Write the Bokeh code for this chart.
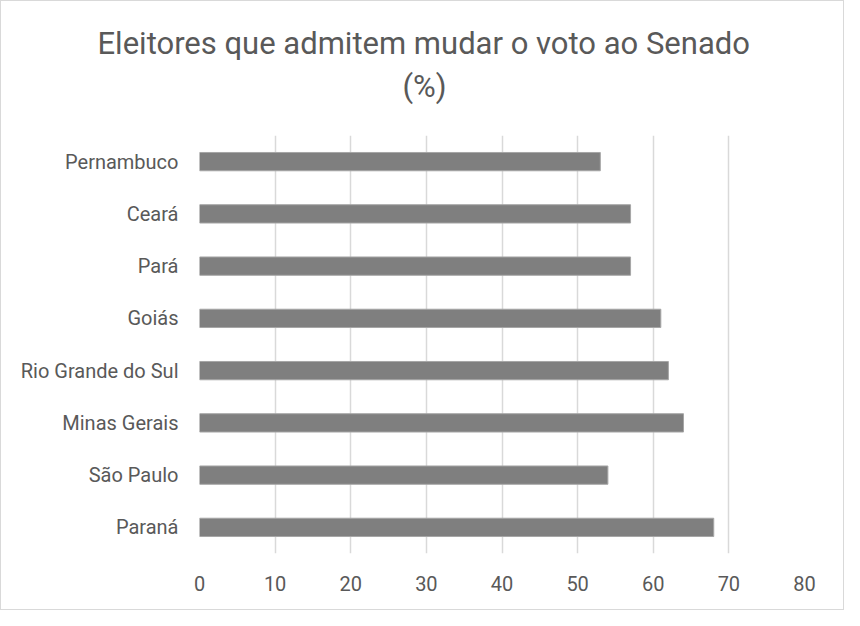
from bokeh.plotting import figure
from bokeh.models import Range1d, FactorRange, FixedTicker, Title, ColumnDataSource
from bokeh.embed import file_html
from bokeh.resources import INLINE

states = ["Pernambuco", "Ceará", "Pará", "Goiás", "Rio Grande do Sul",
          "Minas Gerais", "São Paulo", "Paraná"]
values = [53, 57, 57, 61, 62, 64, 54, 68]
x_ticks = [0, 10, 20, 30, 40, 50, 60, 70, 80]
title_line1 = "Eleitores que admitem mudar o voto ao Senado"
title_line2 = "(%)"

FONT = "Roboto"
TXT = "#595959"

source = ColumnDataSource(dict(state=states, value=values))

p = figure(width=844, height=610, output_backend="svg", toolbar_location=None,
           y_range=FactorRange(factors=list(reversed(states))),
           x_range=Range1d(0, 80),
           min_border_left=198, min_border_right=41,
           min_border_top=134, min_border_bottom=58)

p.hbar(y="state", right="value", left=0, height=0.35, source=source,
       fill_color="#7F7F7F", line_color="#A6A6A6", line_width=1)

# titles (last added is outermost)
t2 = Title(text=title_line2, align="left", text_font=FONT, text_font_size="31px",
           text_font_style="normal", text_color=TXT, standoff=61, offset=203)
t1 = Title(text=title_line1, align="left", text_font=FONT, text_font_size="31px",
           text_font_style="normal", text_color=TXT, standoff=-53, offset=-102)
p.add_layout(t2, "above")
p.add_layout(t1, "above")

p.outline_line_color = None
p.background_fill_color = "white"
p.border_fill_color = "white"

p.xaxis.ticker = FixedTicker(ticks=x_ticks)
p.xaxis.axis_line_color = None
p.xaxis.major_tick_line_color = None
p.xaxis.minor_tick_line_color = None
p.xaxis.major_label_text_font = FONT
p.xaxis.major_label_text_font_size = "20px"
p.xaxis.major_label_text_color = TXT
p.xaxis.major_label_standoff = 16

p.yaxis.axis_line_color = None
p.yaxis.major_tick_line_color = None
p.yaxis.minor_tick_line_color = None
p.yaxis.major_label_text_font = FONT
p.yaxis.major_label_text_font_size = "20px"
p.yaxis.major_label_text_color = TXT
p.yaxis.major_label_standoff = 15

p.xgrid.grid_line_color = "#D9D9D9"
p.xgrid.grid_line_width = 1.5
p.ygrid.grid_line_color = None

p.styles = {"border": "1px solid #D9D9D9"}

open("out.html", "w").write(file_html(p, INLINE))
